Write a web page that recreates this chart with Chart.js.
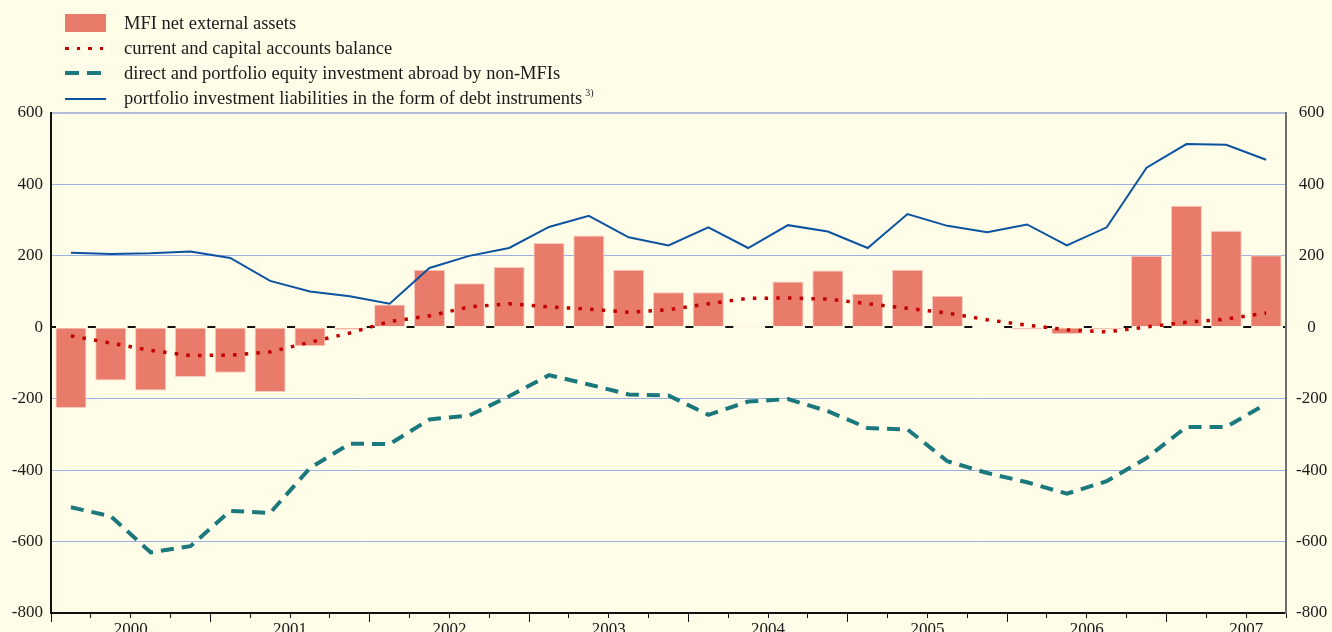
<!DOCTYPE html>
<html>
<head>
<meta charset="utf-8">
<script src="https://cdn.jsdelivr.net/npm/chart.js@4.4.1/dist/chart.umd.min.js"></script>
<style>
  html, body { margin: 0; padding: 0; background: #fffde8; }
  #wrap { position: relative; width: 1332px; height: 632px; overflow: hidden; }
  #legend {
    position: absolute; left: 0; top: 10.5px;
    font: 18.5px "Liberation Serif", "Times New Roman", serif; color: #1a1a1a;
  }
  .item { position: relative; height: 25px; line-height: 25px; padding-left: 124px; white-space: nowrap; }
  .swatch { position: absolute; left: 65px; }
  .item sup { font-size: 10px; line-height: 0; vertical-align: 8px; margin-left: 3px; }
</style>
</head>
<body>
<div id="wrap">
  <canvas id="chart" width="1332" height="632"></canvas>
  <div id="legend"></div>
</div>
<script>
// 12-month cumulated flows, EUR billions, quarterly 2000 Q1 - 2007 Q3
const quarters = [
  '2000Q1', '2000Q2', '2000Q3', '2000Q4',
  '2001Q1', '2001Q2', '2001Q3', '2001Q4',
  '2002Q1', '2002Q2', '2002Q3', '2002Q4',
  '2003Q1', '2003Q2', '2003Q3', '2003Q4',
  '2004Q1', '2004Q2', '2004Q3', '2004Q4',
  '2005Q1', '2005Q2', '2005Q3', '2005Q4',
  '2006Q1', '2006Q2', '2006Q3', '2006Q4',
  '2007Q1', '2007Q2', '2007Q3'
];
const years = ['2000', '2001', '2002', '2003', '2004', '2005', '2006', '2007'];

const mfiNetAssets = [
  -226, -149, -177, -139, -127, -181, -53, -7,
  64, 161, 123, 169, 236, 257, 161, 98,
  98, 4, 128, 159, 94, 161, 88, 0,
  -6, -19, -6, 200, 340, 270, 202
];
const currentAccount = [
  -24, -44, -65, -79, -78, -69, -42, -16,
  16, 32, 57, 66, 57, 51, 42, 49,
  66, 81, 82, 79, 66, 53, 40, 21,
  6, -7, -13, 1, 14, 23, 40
];
const equityAbroad = [
  -504, -529, -630, -613, -514, -520, -394, -326,
  -327, -258, -247, -193, -134, -160, -188, -191,
  -245, -208, -201, -235, -282, -286, -375, -408,
  -434, -466, -431, -366, -279, -279, -215
];
const debtLiabilities = [
  209, 205, 207, 212, 194, 130, 100, 87,
  66, 166, 200, 222, 281, 312, 252, 229,
  280, 222, 286, 268, 222, 317, 284, 266,
  288, 229, 280, 447, 513, 511, 469
];

const FONT = { family: '"Liberation Serif", "Times New Roman", serif', size: 17 };
const TEXT = '#1a1a1a';
const LEFT_W = 51;
const RIGHT_W = 46;
const plotW = 1332 - LEFT_W - RIGHT_W;
const step = plotW / quarters.length;

const datasets = [
  {
    type: 'line', label: 'current and capital accounts balance',
    data: currentAccount, borderColor: '#c20000', borderWidth: 3.5,
    borderDash: [3.5, 8.2], pointRadius: 0, tension: 0, order: 1,
    swatch: 'width:38px;height:3.5px;top:11px;background:repeating-linear-gradient(to right,#c20000 0 3.5px,transparent 3.5px 11.7px);'
  },
  {
    type: 'line', label: 'portfolio investment liabilities in the form of debt instruments',
    note: '3)',
    data: debtLiabilities, borderColor: '#0b53a0', borderWidth: 2,
    pointRadius: 0, tension: 0, order: 2,
    swatch: 'width:41px;height:2px;top:12px;background:#0b53a0;'
  },
  {
    type: 'line', label: 'direct and portfolio equity investment abroad by non-MFIs',
    data: equityAbroad, borderColor: '#1b787d', borderWidth: 4,
    borderDash: [13, 8], pointRadius: 0, tension: 0, order: 3,
    swatch: 'width:36px;height:4px;top:10.5px;background:repeating-linear-gradient(to right,#1b787d 0 14px,transparent 14px 22px);'
  },
  {
    type: 'bar', label: 'MFI net external assets',
    data: mfiNetAssets, backgroundColor: '#e87b69', borderColor: '#f8cbc2',
    borderWidth: 1, barPercentage: 0.78, categoryPercentage: 1, order: 4,
    swatch: 'width:41px;height:18px;top:3.5px;background:#e87b69;'
  }
];

const legendOrder = [3, 0, 2, 1];

// keep the value axes from reserving extra room above/below the plot
function fixVertical(width) {
  return s => {
    s.width = width;
    s.paddingTop = 0;
    s.paddingBottom = 0;
  };
}

new Chart(document.getElementById('chart'), {
  type: 'bar',
  data: { labels: quarters, datasets },
  options: {
    responsive: false,
    animation: false,
    layout: { padding: { top: 113, left: 0, right: 0, bottom: 0 } },
    plugins: { legend: { display: false }, tooltip: { enabled: false } },
    scales: {
      x: {
        offset: true,
        grid: {
          offset: true, drawOnChartArea: false, drawTicks: true,
          tickLength: 9, tickWidth: 1, tickColor: '#111',
          // year boundaries get the long tick, quarters a short one
          tickBorderDash: c => (c.index !== undefined && c.index % 4 === 0) ? [] : [4, 30]
        },
        border: { color: '#111', width: 2 },
        ticks: {
          autoSkip: false, maxRotation: 0, minRotation: 0, padding: -3,
          labelOffset: -step / 2, font: FONT, color: TEXT,
          callback: (v, i) => (i % 4 === 2 ? years[i >> 2] : '')
        },
        afterFit: s => { s.height = 19; }
      },
      y: {
        position: 'left', min: -800, max: 600,
        ticks: { stepSize: 200, padding: 8, font: FONT, color: TEXT, callback: v => String(v) },
        grid: {
          drawTicks: false,
          color: c => {
            const v = c.tick && c.tick.value;
            if (v === 0) return '#111';
            if (v === 600) return '#b3bcd6';
            return '#9cafe3';
          },
          lineWidth: c => {
            const v = c.tick && c.tick.value;
            return (v === 0 || v === 600) ? 2 : 1;
          }
        },
        border: {
          color: '#111', width: 2,
          dash: c => (c.tick && c.tick.value === 0 ? [8, step - 8] : []),
          dashOffset: c => (c.tick && c.tick.value === 0 ? 4 : 0)
        },
        afterFit: fixVertical(LEFT_W)
      },
      y2: {
        position: 'right', min: -800, max: 600,
        ticks: { stepSize: 200, padding: 10, crossAlign: 'center', font: FONT, color: TEXT, callback: v => String(v) },
        grid: { drawOnChartArea: false, drawTicks: false },
        border: { color: '#6e6e6e', width: 2 },
        afterFit: fixVertical(RIGHT_W)
      }
    }
  }
});

// legend as a plain list, one entry per row
const legendEl = document.getElementById('legend');
legendOrder.forEach(i => {
  const ds = datasets[i];
  const row = document.createElement('div');
  row.className = 'item';
  const sw = document.createElement('span');
  sw.className = 'swatch';
  sw.style.cssText = ds.swatch;
  row.appendChild(sw);
  row.appendChild(document.createTextNode(ds.label));
  if (ds.note) {
    const sup = document.createElement('sup');
    sup.textContent = ds.note;
    row.appendChild(sup);
  }
  legendEl.appendChild(row);
});
</script>
</body>
</html>
